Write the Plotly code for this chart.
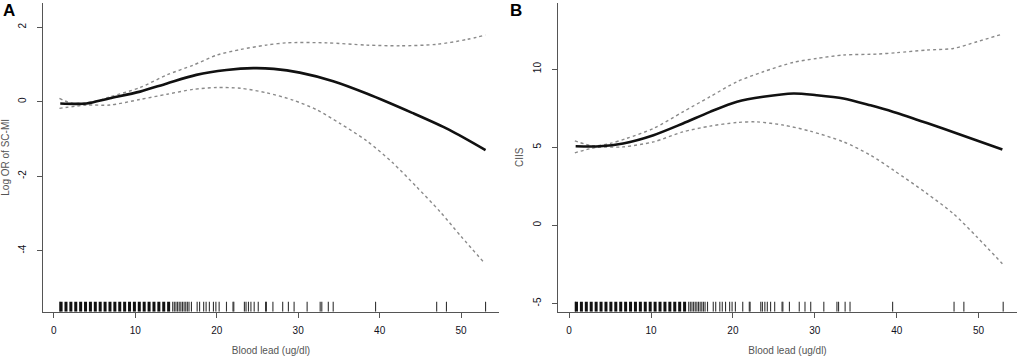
import plotly.graph_objects as go

# ---------------- Data ----------------
# Panel A: Log OR of SC-MI vs blood lead
a_x = [0.8, 2.5, 4.0, 6.9, 10.6, 13.9, 17.5, 21.2, 24.5, 27.0, 30.2, 34.3, 38.4, 44.0, 48.5, 53.0]
a_fit = [-0.05, -0.06, -0.05, 0.09, 0.27, 0.49, 0.72, 0.85, 0.90, 0.88, 0.78, 0.55, 0.22, -0.30, -0.75, -1.30]
a_up_x = [0.7, 2.2, 4.9, 6.9, 10.6, 13.9, 17.1, 20.0, 22.9, 26.1, 28.6, 33.5, 38.4, 42.5, 47.0, 50.7, 53.0]
a_up = [0.09, -0.04, 0.0, 0.13, 0.38, 0.72, 0.98, 1.25, 1.40, 1.52, 1.58, 1.58, 1.52, 1.50, 1.54, 1.67, 1.79]
a_lo_x = [0.7, 4.05, 6.9, 10.6, 13.9, 17.1, 20.0, 22.9, 26.1, 29.4, 32.3, 35.1, 38.4, 41.5, 44.5, 47.4, 50.0, 52.9]
a_lo = [-0.18, -0.09, -0.09, 0.06, 0.20, 0.33, 0.38, 0.36, 0.24, 0.04, -0.22, -0.58, -1.05, -1.62, -2.28, -2.95, -3.62, -4.34]

# Panel B: CIIS vs blood lead
b_x = [0.8, 3.75, 6.6, 10.3, 13.9, 17.2, 20.5, 23.7, 27.4, 30.2, 33.5, 36.8, 39.6, 43.7, 47.8, 52.9]
b_fit = [5.06, 5.06, 5.24, 5.77, 6.52, 7.26, 7.91, 8.23, 8.44, 8.33, 8.12, 7.68, 7.26, 6.55, 5.80, 4.85]
b_up_x = [0.7, 2.9, 5.0, 7.0, 10.3, 13.9, 17.2, 20.5, 23.7, 27.4, 30.2, 33.5, 37.6, 40.0, 43.7, 46.9, 49.8, 52.9]
b_up = [5.41, 5.09, 5.24, 5.56, 6.20, 7.26, 8.23, 9.19, 9.83, 10.43, 10.68, 10.90, 10.96, 11.05, 11.22, 11.32, 11.75, 12.24]
b_lo_x = [0.7, 3.3, 6.6, 10.3, 13.9, 17.2, 20.5, 22.9, 26.2, 29.4, 33.5, 36.8, 39.6, 43.7, 46.9, 49.8, 52.9]
b_lo = [4.64, 4.98, 5.02, 5.34, 5.98, 6.35, 6.58, 6.62, 6.41, 6.03, 5.34, 4.49, 3.53, 2.03, 0.75, -0.75, -2.46]

# Rug (observed blood lead values)
rug_dense = [0.9, 1.5, 2.1, 2.7, 3.3, 3.9, 4.5, 5.1, 5.7, 6.3, 6.9, 7.5, 8.1, 8.7, 9.3,
             9.9, 10.5, 11.1, 11.7, 12.3, 12.9, 13.5, 14.1]
rug_sparse = [0.75, 14.6, 14.8, 15.0, 15.2, 15.4, 15.6, 15.8, 16.0, 16.2, 16.4, 16.6, 16.9,
              17.6, 17.9, 18.4, 18.7, 19.1, 19.6, 19.9, 20.3, 21.2, 22.0, 22.1, 23.4, 23.6,
              23.9, 24.2, 24.6, 25.1, 26.0, 26.1, 26.9, 28.1, 28.8, 29.5, 31.1, 32.7, 32.9,
              33.7, 34.3, 39.5, 47.0, 48.2, 53.0]

x_ticks = [0, 10, 20, 30, 40, 50]
a_yticks = [-4, -2, 0, 2]
a_yticktext = ["-4", "-2", "0", "2"]
b_yticks = [-5, 0, 5, 10]
b_yticktext = ["-5", "0", "5", "10"]

x_title = "Blood lead (ug/dl)"
a_ytitle = "Log OR of SC-MI"
b_ytitle = "CIIS"

# ---------------- Layout constants ----------------
W, H = 1021, 358
x_range = [-1.32, 54.65]
a_yrange = [-5.64, 2.65]
b_yrange = [-5.53, 14.23]
ydom = [1 - 311.7 / H, 1 - 3 / H]
a_xdom = [43 / W, 499 / W]
b_xdom = [558.3 / W, 1016.7 / W]
RUG_FRAC = 0.032

fig = go.Figure()


def add_panel(xs, fit, ux, up, lx, lo, xa, ya, yr):
    for cx, cy in [(ux, up), (lx, lo)]:
        fig.add_trace(go.Scatter(x=cx, y=cy, mode="lines",
                                 line=dict(color="#8a8a8a", width=1.4, dash="dot", shape="spline", smoothing=0.8),
                                 xaxis=xa, yaxis=ya, showlegend=False, hoverinfo="skip"))
    fig.add_trace(go.Scatter(x=xs, y=fit, mode="lines",
                             line=dict(color="#111111", width=2.6, shape="spline", smoothing=0.8),
                             xaxis=xa, yaxis=ya, showlegend=False, hoverinfo="skip"))
    y0 = yr[0]
    y1 = yr[0] + RUG_FRAC * (yr[1] - yr[0])
    for vals, w, c in [(rug_sparse, 1.1, "#333333"), (rug_dense, 3.0, "#111111")]:
        rx, ry = [], []
        for v in vals:
            rx += [v, v, None]
            ry += [y0, y1, None]
        fig.add_trace(go.Scatter(x=rx, y=ry, mode="lines", line=dict(color=c, width=w),
                                 xaxis=xa, yaxis=ya, showlegend=False, hoverinfo="skip"))


add_panel(a_x, a_fit, a_up_x, a_up, a_lo_x, a_lo, "x", "y", a_yrange)
add_panel(b_x, b_fit, b_up_x, b_up, b_lo_x, b_lo, "x2", "y2", b_yrange)

tickfont = dict(family="Liberation Sans, Arial, sans-serif", size=10, color="#111122")
titlefont = dict(family="Liberation Sans, Arial, sans-serif", size=10, color="#555555")

xcommon = dict(range=x_range, tickvals=x_ticks, showgrid=False, zeroline=False, showline=True,
               linecolor="#555555", linewidth=1, ticks="outside", ticklen=5, tickcolor="#555555",
               tickfont=tickfont, ticklabelstandoff=4, automargin=False,
               title=dict(text=x_title, font=titlefont, standoff=12), fixedrange=True)
ycommon = dict(showgrid=False, zeroline=False, showline=True, linecolor="#555555", linewidth=1,
               ticks="outside", ticklen=5, tickcolor="#555555", tickfont=tickfont, tickangle=-90,
               ticklabelstandoff=7, automargin=False, fixedrange=True)

fig.update_layout(
    width=W, height=H,
    margin=dict(l=0, r=0, t=0, b=0),
    paper_bgcolor="white", plot_bgcolor="white",
    xaxis=dict(domain=a_xdom, anchor="y", **xcommon),
    yaxis=dict(domain=ydom, anchor="x", range=a_yrange, tickvals=a_yticks, ticktext=a_yticktext,
               title=dict(text=a_ytitle, font=titlefont, standoff=6), **ycommon),
    xaxis2=dict(domain=b_xdom, anchor="y2", **xcommon),
    yaxis2=dict(domain=ydom, anchor="x2", range=b_yrange, tickvals=b_yticks, ticktext=b_yticktext,
                title=dict(text=b_ytitle, font=titlefont, standoff=6), **ycommon),
    annotations=[
        dict(text="<b>A</b>", x=9 / W, y=1 - 10 / H, xref="paper", yref="paper", showarrow=False,
             xanchor="center", yanchor="middle",
             font=dict(family="Liberation Sans, Arial, sans-serif", size=17, color="black")),
        dict(text="<b>B</b>", x=516 / W, y=1 - 10 / H, xref="paper", yref="paper", showarrow=False,
             xanchor="center", yanchor="middle",
             font=dict(family="Liberation Sans, Arial, sans-serif", size=17, color="black")),
    ],
)

fig.write_html("out.html", config={"displayModeBar": False},
               post_script="document.body.style.margin='0px';")
